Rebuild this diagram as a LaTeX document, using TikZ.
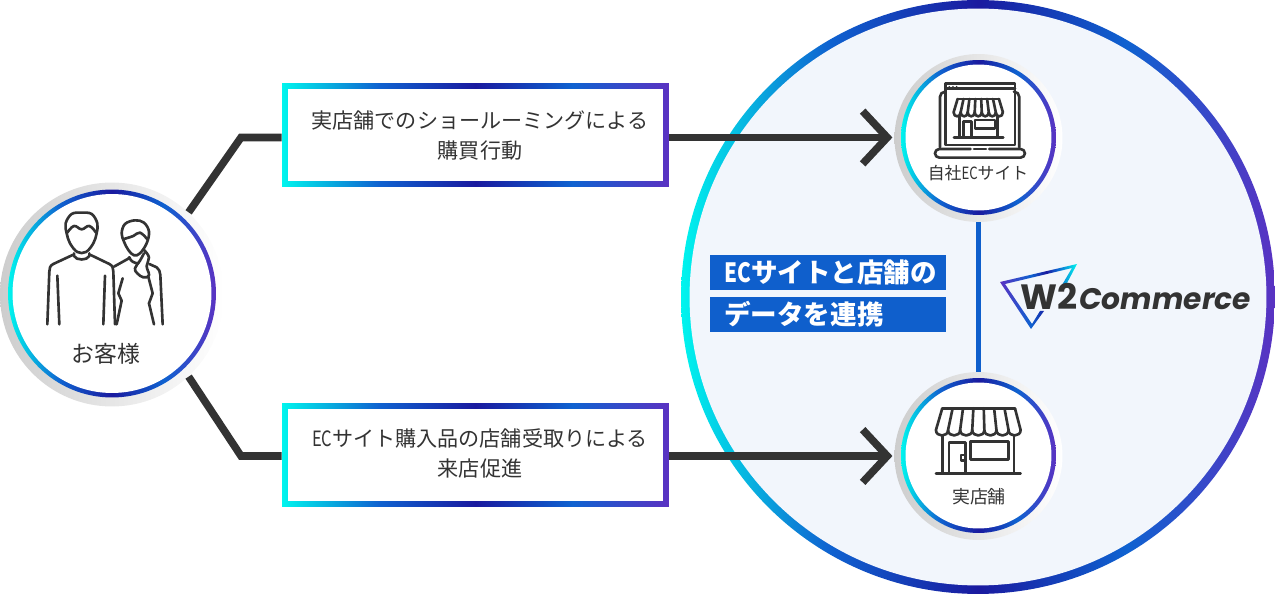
\documentclass[tikz,border=0pt]{standalone}
\usepackage{fontspec}
\usetikzlibrary{arrows.meta}
\newfontfamily\jpfont{Noto Sans CJK JP}
\newfontfamily\narrowjp[FakeStretch=0.78]{Noto Sans CJK JP}
\newfontfamily\logofont{Poppins}
\definecolor{gcyan}{HTML}{00F5EE}
\definecolor{gblue}{HTML}{0F62D0}
\definecolor{gnavy}{HTML}{1A1A9F}
\definecolor{gpurple}{HTML}{5A32C2}
\definecolor{panelbg}{HTML}{F2F6FC}
\definecolor{linkblue}{HTML}{0F5FCC}
\definecolor{inkdark}{HTML}{333333}
\definecolor{ringgray}{HTML}{CDCDCD}
\pgfdeclarehorizontalshading{ecgrad}{100bp}{color(0bp)=(gcyan); color(25bp)=(gcyan); color(37.5bp)=(gblue); color(50bp)=(gnavy); color(62.5bp)=(gblue); color(75bp)=(gpurple); color(100bp)=(gpurple)}
\pgfdeclarehorizontalshading{logograd}{100bp}{color(0bp)=(gpurple); color(25bp)=(gpurple); color(45bp)=(gblue); color(55bp)=(gnavy); color(62bp)=(gblue); color(75bp)=(gcyan); color(100bp)=(gcyan)}
\tikzset{
  outerring/.style={circle, inner sep=0pt, minimum size=#1, left color=ringgray, right color=white},
  gradring/.style={circle, inner sep=0pt, minimum size=#1, shading=ecgrad},
  whitedisc/.style={circle, inner sep=0pt, minimum size=#1, fill=white},
  gradbox/.style={rectangle, inner sep=0pt, minimum width=7.74cm, minimum height=2.08cm, shading=ecgrad},
  whitebox/.style={rectangle, inner sep=0pt, minimum width=7.52cm, minimum height=1.86cm, fill=white},
  boxtext/.style={inner sep=0pt, align=center, text=inkdark, font=\jpfont\fontsize{12}{17.6}\selectfont},
  caption/.style={inner sep=0pt, text=inkdark, font=\jpfont\fontsize{#1}{#1}\selectfont},
  bluelabel/.style={rectangle, anchor=west, inner xsep=0.28cm, inner ysep=0pt, minimum height=0.7cm, text width=4.16cm, fill=linkblue,
    text=white, font=\jpfont\bfseries\fontsize{15.1}{15.1}\selectfont},
  conn/.style={draw=inkdark, line width=4.3pt},
  arrowconn/.style={conn, -{Straight Barb[length=14pt,width=30pt]}, shorten >=1pt},
  icon/.style={draw=inkdark, line width=1.5pt, line cap=round, line join=round}
}
\begin{document}
\begin{tikzpicture}[x=0.02cm, y=-0.02cm]
  \useasboundingbox (0,0) rectangle (1275,594);

  \node[gradring=11.88cm] (panel) at (978,297) {};
  \node[circle, inner sep=0pt, minimum size=11.54cm, fill=panelbg] (panelin) at (978,297) {};

  \node[outerring=4.48cm] (customerout) at (112,294.5) {};
  \node[gradring=4.16cm] (customerring) at (112,293.5) {};
  \node[whitedisc=3.98cm] (customer) at (112,293.5) {};
  \node[caption=13] (customertext) at (106,354) {お客様};

  \node[outerring=3.36cm] (siteout) at (978.5,138) {};
  \node[gradring=3.1cm] (sitering) at (978.5,137.5) {};
  \node[whitedisc=2.92cm] (site) at (978.5,137.5) {};
  \node[caption=9.6] (sitetext) at (978,173) {自社{\narrowjp EC}サイト};

  \node[outerring=3.36cm] (storeout) at (978.5,456) {};
  \node[gradring=3.1cm] (storering) at (978.5,455.5) {};
  \node[whitedisc=2.92cm] (store) at (978.5,455.5) {};
  \node[caption=10.2] (storetext) at (979,497) {実店舗};

  \node[gradbox] (topbox) at (475.5,135) {};
  \node[whitebox] (topinner) at (475.5,135) {};
  \node[boxtext] (toptext) at (480,135.5) {実店舗でのショールーミングによる\\購買行動};
  \node[gradbox] (lowbox) at (475.5,455) {};
  \node[whitebox] (lowinner) at (475.5,455) {};
  \node[boxtext] (lowtext) at (480,453.5) {{\narrowjp EC}サイト購入品の店舗受取りによる\\来店促進};

  \node[bluelabel] (labelone) at (710,272.5) {{\narrowjp\bfseries EC}サイトと店舗の};
  \node[bluelabel] (labeltwo) at (710,314.5) {データを連携};

  \coordinate (topbend) at (241,137.5);
  \coordinate (lowbend) at (241,456);
  \draw[conn] (customerout.47) -- (topbend) -- (topbox.west |- topbend);
  \draw[conn] (customerout.-47) -- (lowbend) -- (lowbox.west |- lowbend);
  \draw[arrowconn] (topbox.east |- topbend) -- (siteout.west |- topbend);
  \draw[arrowconn] (lowbox.east |- lowbend) -- (storeout.west |- lowbend);
  \draw[draw=linkblue, line width=2.3pt] (siteout.south) -- (storeout.north);

  \shade[shading=logograd] (1000,282) -- (1077,264) -- (1066,285) -- (1062,285) -- (1072,268) -- (1005,284)
    -- (1032,324) -- (1040,311) -- (1044,311) -- (1031,329) -- cycle;
  \node[anchor=base west, inner sep=0pt, text=inkdark, font=\logofont\bfseries\fontsize{20}{20}\selectfont] (logow) at (1020,309.5) {W2};
  \node[anchor=base west, inner sep=0pt, text=inkdark, font=\logofont\bfseries\itshape\fontsize{16.9}{16.9}\selectfont] (logoc) at (1079,309.5) {Commerce};

  \begin{scope}[x=0.02cm/3, y=-0.02cm/3, shift={(0,510)}]
    \draw[icon] plot[smooth cycle, tension=0.6] coordinates {(245,128) (275,132) (292,160) (290,190) (280,220) (258,246) (232,246) (210,220) (200,190) (197,160) (215,132)};
    \draw[icon] plot[smooth, tension=0.7] coordinates {(202,188) (222,168) (245,178) (268,168) (288,188)};
    \draw[icon] (222,250) -- (222,258) .. controls (228,272) and (262,272) .. (268,258) -- (268,250);
    \draw[icon] (218,255) -- (160,282) .. controls (150,287) and (148,295) .. (148,305) -- (142,463);
    \draw[icon] (272,255) -- (328,282) .. controls (338,287) and (340,295) .. (340,305) -- (345,463);
    \draw[icon] (172,317) -- (178,463);
    \draw[icon] (315,317) -- (310,463);
    \draw[icon] plot[smooth cycle, tension=0.6] coordinates {(405,151) (432,158) (447,185) (440,220) (420,250) (402,256) (385,240) (372,215) (365,190) (375,162)};
    \draw[icon] plot[smooth, tension=0.7] coordinates {(372,207) (400,198) (420,188) (442,208)};
    \draw[icon] (342,290) -- (385,266) -- (388,262) .. controls (392,275) and (405,280) .. (415,280);
    \draw[icon] plot[smooth, tension=0.7] coordinates {(432,240) (447,262) (440,288) (447,316) (430,322) (412,310) (405,295) (420,272) (432,250)};
    \draw[icon] (448,282) -- (470,292) .. controls (478,298) and (480,305) .. (481,315) -- (488,463);
    \draw[icon] (445,320) -- (458,370) -- (447,400) -- (462,463);
    \draw[icon] (368,325) -- (355,370) -- (365,392) -- (350,463);
  \end{scope}

  \begin{scope}[x=0.02cm/3, y=-0.02cm/3, shift={(2640,150)}]
    \draw[icon, rounded corners=3pt] (180,292) -- (180,125) -- (197,125);
    \draw[icon, rounded corners=3pt] (405,125) -- (418,125) -- (418,292);
    \draw[icon] (197,285) -- (197,100) -- (405,100) -- (405,285) -- cycle;
    \draw[icon] (197,116) -- (405,116);
    \foreach \dotx in {208,219,230}
      \fill[inkdark] (\dotx,110) circle (2.5);
    \draw[icon, rounded corners=2.5pt] (272,297) -- (165,297) -- (165,323) -- (435,323) -- (435,297) -- (328,297);
    \draw[icon] (282,297) -- (318,297);
    \draw[icon] (233,147) -- (357,147);
    \foreach \i [evaluate=\i as \xt using 233+17.7*\i, evaluate=\i as \xb using 221+21.1*\i] in {0,...,6} {
      \draw[icon] (\xt,147) -- (\xb,187) .. controls (\xb,203) and (\xb+21.1,203) .. (\xb+21.1,187);
    }
    \draw[icon] (357,147) -- (369,187);
    \draw[icon] (238,200) -- (238,262);
    \draw[icon] (352,200) -- (352,262);
    \draw[icon] (222,262) -- (370,262);
    \draw[icon] (250,262) -- (250,215) -- (275,215) -- (275,262);
    \draw[icon] (285,210) rectangle (345,235);
  \end{scope}

  \begin{scope}[x=0.02cm/3, y=-0.02cm/3, shift={(2640,1110)}]
    \draw[icon] (187,115) -- (405,115);
    \foreach \i [evaluate=\i as \xt using 187+31.1*\i, evaluate=\i as \xb using 168+36.3*\i] in {0,...,6} {
      \draw[icon] (\xt,115) -- (\xb,180) .. controls (\xb,202) and (\xb+36.3,202) .. (\xb+36.3,180);
    }
    \draw[icon] (405,115) -- (422,180);
    \draw[icon] (188,197) -- (188,310);
    \draw[icon] (402,197) -- (402,310);
    \draw[icon] (168,310) -- (422,310);
    \draw[icon] (207,310) -- (207,217) -- (257,217) -- (257,310);
    \draw[icon] (272,215) rectangle (385,268);
    \draw[icon] (243,255) rectangle (255,272);
  \end{scope}
\end{tikzpicture}
\end{document}
